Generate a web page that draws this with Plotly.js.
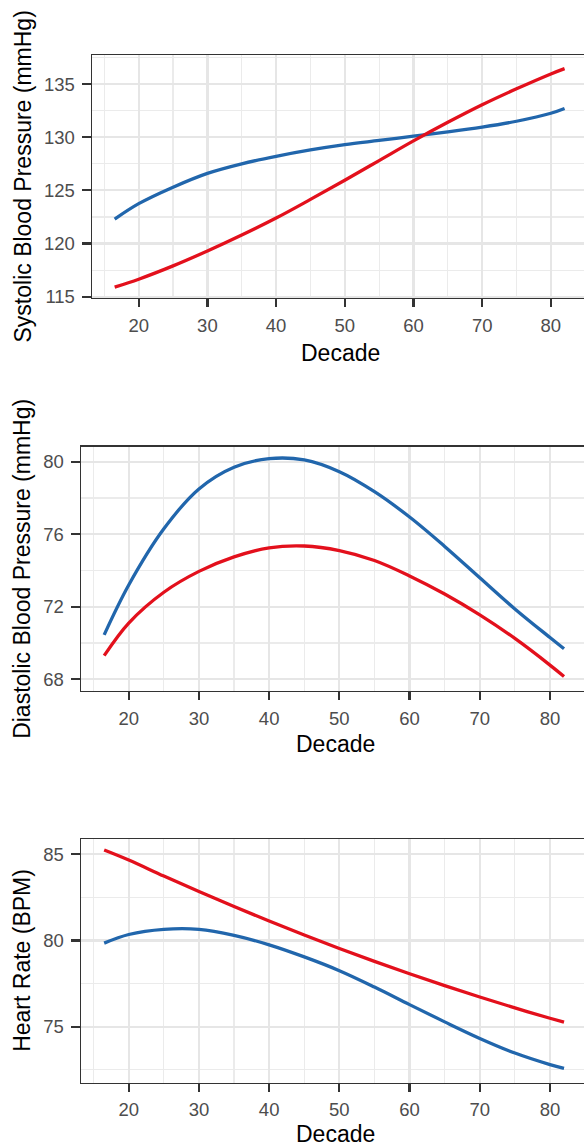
<!DOCTYPE html>
<html>
<head>
<meta charset="utf-8">
<script src="https://cdn.plot.ly/plotly-3.0.1.min.js"></script>
<style>
html, body { margin: 0; padding: 0; overflow: hidden; background: #ffffff; }
#chart { width: 600px; height: 1148px; }
</style>
</head>
<body>
<div id="chart"></div>
<script>
// Age (decade) sample points
const ages = [16.5, 20, 25, 30, 35, 40, 45, 50, 55, 60, 65, 70, 75, 80, 82];

// Systolic blood pressure (mmHg)
const sbpBlue = [122.3, 123.75, 125.3, 126.6, 127.5, 128.2, 128.8, 129.3, 129.7, 130.1, 130.5, 130.95, 131.5, 132.25, 132.7];
const sbpRed  = [115.9, 116.65, 117.9, 119.3, 120.8, 122.4, 124.15, 125.95, 127.8, 129.65, 131.4, 133.05, 134.55, 135.95, 136.45];

// Diastolic blood pressure (mmHg)
const dbpBlue = [70.45, 73.2, 76.3, 78.5, 79.7, 80.17, 80.1, 79.45, 78.35, 76.95, 75.33, 73.6, 71.88, 70.3, 69.68];
const dbpRed  = [69.3, 71.1, 72.8, 73.95, 74.75, 75.25, 75.35, 75.1, 74.55, 73.7, 72.7, 71.55, 70.25, 68.78, 68.15];

// Heart rate (BPM)
const hrBlue = [79.85, 80.35, 80.65, 80.65, 80.3, 79.75, 79.05, 78.25, 77.3, 76.28, 75.28, 74.32, 73.47, 72.8, 72.58];
const hrRed  = [85.25, 84.67, 83.74, 82.84, 81.97, 81.13, 80.32, 79.54, 78.79, 78.07, 77.38, 76.72, 76.09, 75.49, 75.26];

const yTitles = ["Systolic Blood Pressure (mmHg)", "Diastolic Blood Pressure (mmHg)", "Heart Rate (BPM)"];
const xTitle = "Decade";

const BLUE = "#2166ac";
const RED = "#e3101c";
const W = 600, H = 1148;

function line(x, y, color, xa, ya) {
  return { x: x, y: y, type: "scatter", mode: "lines", xaxis: xa, yaxis: ya,
           line: { color: color, width: 3.3, shape: "spline", smoothing: 1 },
           hoverinfo: "skip", showlegend: false };
}

const data = [
  line(ages, sbpBlue, BLUE, "x", "y"),
  line(ages, sbpRed, RED, "x", "y"),
  line(ages, dbpBlue, BLUE, "x2", "y2"),
  line(ages, dbpRed, RED, "x2", "y2"),
  line(ages, hrBlue, BLUE, "x3", "y3"),
  line(ages, hrRed, RED, "x3", "y3")
];

// panel pixel boxes [left, right, top, bottom]
const boxes = [
  [92, 590, 55, 298],
  [81, 590, 446.7, 691],
  [81, 590, 839, 1082.7]
];
const yRanges = [[114.88, 137.73], [67.35, 80.83], [71.75, 85.89]];
const yTicks = [{ dtick: 5, tick0: 0, minor: 2.5 }, { dtick: 4, tick0: 0, minor: 2 }, { dtick: 5, tick0: 0, minor: 2.5 }];

const tickFont = { family: "Liberation Sans, Arial, Helvetica, sans-serif", size: 18.5, color: "#4d4d4d" };
const titleFont = { family: "Liberation Sans, Arial, Helvetica, sans-serif", size: 23, color: "#000000" };

const layout = {
  width: W, height: H,
  margin: { l: 0, r: 0, t: 0, b: 0, pad: 0 },
  paper_bgcolor: "#ffffff", plot_bgcolor: "#ffffff",
  showlegend: false,
  annotations: []
};

boxes.forEach((b, i) => {
  const sfx = i === 0 ? "" : String(i + 1);
  const xdom = [b[0] / W, b[1] / W];
  const ydom = [1 - b[3] / H, 1 - b[2] / H];
  layout["xaxis" + sfx] = {
    domain: xdom, range: [13.2, 85.7], anchor: "y" + sfx,
    tickmode: "linear", tick0: 0, dtick: 10,
    ticks: "outside", ticklen: 8, tickwidth: 2.2, tickcolor: "#333333",
    ticklabelstandoff: 2,
    showline: true, mirror: true, linecolor: "#333333", linewidth: 1.4,
    showgrid: true, gridcolor: "#e6e6e6", gridwidth: 2.2,
    minor: { dtick: 5, tick0: 0, showgrid: true, gridcolor: "#ebebeb", gridwidth: 1.2, ticks: "" },
    zeroline: false, tickfont: tickFont, fixedrange: true
  };
  layout["yaxis" + sfx] = {
    domain: ydom, range: yRanges[i], anchor: "x" + sfx,
    tickmode: "linear", tick0: yTicks[i].tick0, dtick: yTicks[i].dtick,
    ticks: "outside", ticklen: 9, tickwidth: 2.2, tickcolor: "#333333",
    ticklabelstandoff: 3,
    showline: true, mirror: true, linecolor: "#333333", linewidth: 1.4,
    showgrid: true, gridcolor: "#e6e6e6", gridwidth: 2.2,
    minor: { dtick: yTicks[i].minor, tick0: 0, showgrid: true, gridcolor: "#ebebeb", gridwidth: 1.2, ticks: "" },
    zeroline: false, tickfont: tickFont, fixedrange: true
  };
  // y-axis title (rotated)
  layout.annotations.push({
    text: yTitles[i], xref: "paper", yref: "paper",
    x: 22 / W, y: 1 - ((b[2] + b[3]) / 2) / H,
    xanchor: "center", yanchor: "middle", textangle: -90,
    showarrow: false, font: titleFont
  });
});

// x-axis titles
const xTitleY = [353, 744];
const xTitleX = [340, 335, 335];
xTitleY.forEach((yy, i) => {
  layout.annotations.push({
    text: xTitle, xref: "paper", yref: "paper",
    x: xTitleX[i] / W, y: 1 - yy / H,
    xanchor: "center", yanchor: "middle",
    showarrow: false, font: titleFont
  });
});
// bottom panel title sits at the lower edge of the page
layout.annotations.push({
  text: xTitle, xref: "paper", yref: "paper",
  x: xTitleX[2] / W, y: 0,
  xanchor: "center", yanchor: "bottom",
  showarrow: false, font: titleFont, borderpad: 0
});

Plotly.newPlot("chart", data, layout, { staticPlot: true, displayModeBar: false });
</script>
</body>
</html>
